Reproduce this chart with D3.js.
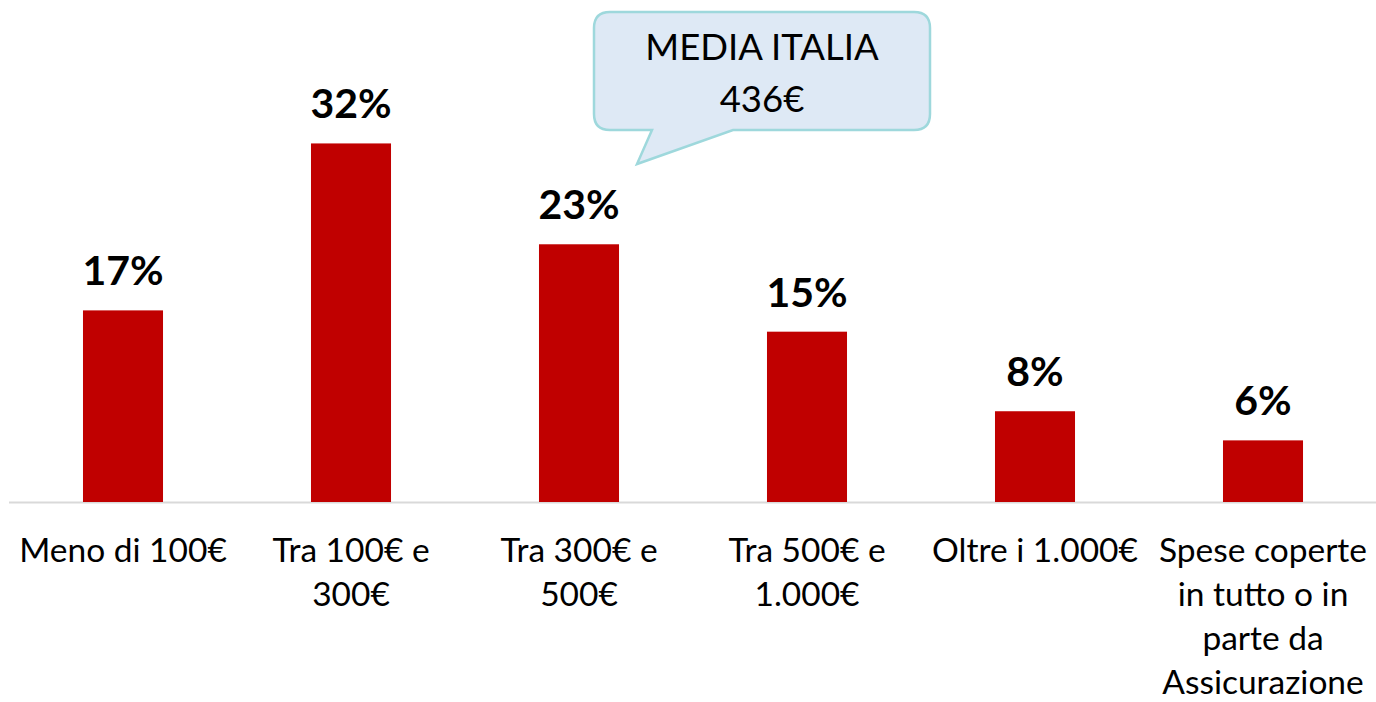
<!DOCTYPE html>
<html><head><meta charset="utf-8">
<script src="https://cdn.jsdelivr.net/npm/d3@7"></script>
<style>html,body{margin:0;padding:0;background:#fff;}svg{display:block;}</style>
</head><body>
<svg id="chart" width="1376" height="702"></svg>
<script>
const categories = [
  ["Meno di 100€"],
  ["Tra 100€ e", "300€"],
  ["Tra 300€ e", "500€"],
  ["Tra 500€ e", "1.000€"],
  ["Oltre i 1.000€"],
  ["Spese coperte", "in tutto o in", "parte da", "Assicurazione"]
];
// bar heights (labels are rounded)
const values = [17.1, 32, 23, 15.2, 8.1, 5.5];
const valueLabels = ["17%", "32%", "23%", "15%", "8%", "6%"];
const calloutLines = ["MEDIA ITALIA", "436€"];

const FONT = "Lato, 'Open Sans', sans-serif";
const svg = d3.select("#chart");
const baseY = 502;
const x = d3.scaleBand().domain(d3.range(values.length)).range([9, 1377]).paddingInner(0.649).paddingOuter(0.3245);
const y = d3.scaleLinear().domain([0, 44.8]).range([baseY, 0]);

// axis line
svg.append("line").attr("x1", 9).attr("x2", 1376).attr("y1", baseY + 0.5).attr("y2", baseY + 0.5)
  .attr("stroke", "#d9d9d9").attr("stroke-width", 2);

// bars
svg.selectAll("rect.bar").data(values).join("rect").attr("class", "bar")
  .attr("x", (d, i) => x(i)).attr("width", x.bandwidth())
  .attr("y", d => y(d)).attr("height", d => baseY - y(d))
  .attr("fill", "#c00000");

// value labels
svg.selectAll("text.val").data(values).join("text").attr("class", "val")
  .attr("x", (d, i) => x(i) + x.bandwidth() / 2)
  .attr("y", d => y(d) - 25)
  .attr("text-anchor", "middle").attr("font-family", FONT).attr("font-weight", "bold")
  .attr("font-size", 41).attr("fill", "#000")
  .text((d, i) => valueLabels[i]);

// category labels
const cat = svg.selectAll("text.cat").data(categories).join("text").attr("class", "cat")
  .attr("text-anchor", "middle").attr("font-family", FONT).attr("font-size", 33.5).attr("fill", "#000");
cat.each(function(lines, i) {
  const t = d3.select(this);
  lines.forEach((ln, j) => {
    t.append("tspan").attr("x", x(i) + x.bandwidth() / 2).attr("y", 562 + j * 44).text(ln);
  });
});

// callout
const bx0 = 594, bx1 = 930, by0 = 12, by1 = 130, r = 16;
const tailA = 652, tailB = 733, tipX = 637, tipY = 164;
const p = d3.path();
p.moveTo(bx0 + r, by0);
p.lineTo(bx1 - r, by0);
p.quadraticCurveTo(bx1, by0, bx1, by0 + r);
p.lineTo(bx1, by1 - r);
p.quadraticCurveTo(bx1, by1, bx1 - r, by1);
p.lineTo(tailB, by1);
p.lineTo(tipX, tipY);
p.lineTo(tailA, by1);
p.lineTo(bx0 + r, by1);
p.quadraticCurveTo(bx0, by1, bx0, by1 - r);
p.lineTo(bx0, by0 + r);
p.quadraticCurveTo(bx0, by0, bx0 + r, by0);
p.closePath();
svg.append("path").attr("d", p.toString()).attr("fill", "#dee9f5").attr("stroke", "#9ed8dc").attr("stroke-width", 2.5);
svg.append("text").attr("text-anchor", "middle").attr("font-family", FONT).attr("font-size", 36.5).attr("fill", "#000")
  .selectAll("tspan").data(calloutLines).join("tspan")
  .attr("x", (bx0 + bx1) / 2).attr("y", (d, i) => 60 + i * 52).text(d => d);
</script>
</body></html>
